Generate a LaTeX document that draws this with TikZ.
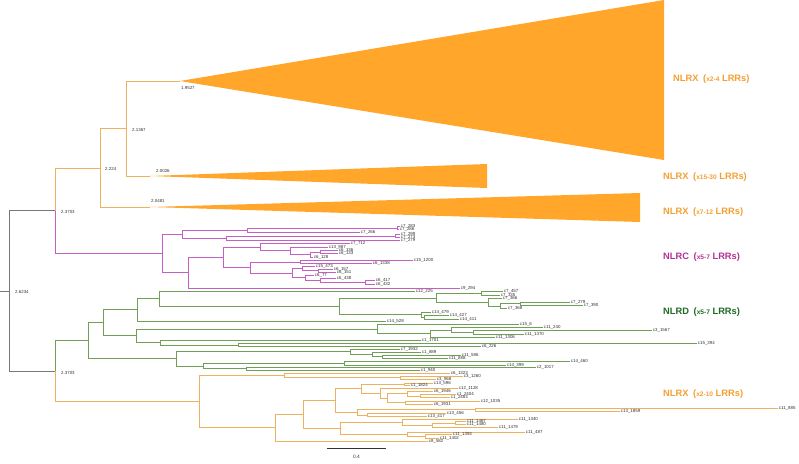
\documentclass[tikz,border=0pt]{standalone}
\usepackage{fontspec}
\setmainfont{Liberation Sans}
\definecolor{orL}{RGB}{236,178,96}
\definecolor{mgL}{RGB}{196,96,196}
\definecolor{gnL}{RGB}{112,160,88}
\definecolor{gyL}{RGB}{120,120,120}
\definecolor{orF}{RGB}{255,166,43}
\definecolor{orT}{RGB}{242,160,50}
\definecolor{mgT}{RGB}{180,50,150}
\definecolor{gnT}{RGB}{30,105,35}
\definecolor{txt}{RGB}{50,50,50}
\tikzset{
 br/.style={line width=0.65pt},
 bo/.style={br,orL}, bm/.style={br,mgL}, bg/.style={br,gnL}, bk/.style={br,gyL},
 lbl/.style={anchor=west, inner xsep=0.6pt, inner ysep=0pt, font=\fontsize{4.4}{4.4}\selectfont, text=txt},
 nlb/.style={anchor=west, inner sep=0pt, font=\fontsize{4.4}{4.4}\selectfont, text=txt},
 clade/.style={anchor=west, inner sep=0pt, font=\bfseries\fontsize{9.3}{11}\selectfont},
}
\newcommand\lf[5]{\draw[#1] (#2) |- (#3,#4) node[lbl]{#5};}
\newcommand\ed[3]{\draw[#1] (#2) |- (#3);}
\newcommand\sm[1]{{\fontsize{6.6}{7}\selectfont #1}}
\begin{document}
\begin{tikzpicture}[x=1pt,y=-1pt]
\useasboundingbox (0,0) rectangle (799,463);
% ---------- top-level ----------
\coordinate (rs) at (0,290.9);
\coordinate (r) at (9,290.9);
\coordinate (U) at (55,210.65);
\coordinate (L) at (55,371.2);
\coordinate (n100) at (100,168);
\coordinate (n126) at (126,128.5);
\coordinate (t1) at (180,81);
\coordinate (t2) at (150,176);
\coordinate (t3) at (150,207);
% NLRC
\coordinate (nC) at (162,253.3);
\coordinate (nC1) at (182,234);
\coordinate (nC1a) at (247,230.25);
\coordinate (nC1a1) at (397,228);
\coordinate (nC1b) at (226,238);
\coordinate (nC1b1) at (395,236);
\coordinate (nC2) at (188,272.65);
\coordinate (nC2a) at (223,257.3);
\coordinate (nC2a1) at (260,247.1);
\coordinate (nX) at (290,250.75);
\coordinate (nY) at (310,254.5);
\coordinate (nZ) at (320,252);
\coordinate (nC2a2) at (250,267.55);
\coordinate (nW) at (300,262);
\coordinate (nV) at (292,273.1);
\coordinate (nV1) at (302,268.6);
\coordinate (nV1a) at (318,270.75);
\coordinate (nV2) at (305,277.6);
\coordinate (nV2a) at (320,280.1);
\coordinate (nV2b) at (365,282.25);
% NLRD
\coordinate (nD) at (88,340.8);
\coordinate (nD1) at (103,322.8);
\coordinate (nD1a) at (137,309.8);
\coordinate (nD1a1) at (159,298.6);
\coordinate (nD1a1b) at (339,306.25);
\coordinate (nG) at (436,298);
\coordinate (nG1) at (481,293.5);
\coordinate (nG2) at (488,302.25);
\coordinate (nG3) at (500,306);
\coordinate (nG4) at (520,303.5);
\coordinate (nH) at (421,314.5);
\coordinate (nH1) at (424,317);
\coordinate (nD1b) at (136,335.8);
\coordinate (nE) at (377,328.85);
\coordinate (nE1) at (430,333.7);
\coordinate (nE2) at (451,329.9);
\coordinate (nE3) at (473,332.25);
\coordinate (nF) at (160,342.75);
\coordinate (nF1) at (238,345);
\coordinate (nD2) at (176,358.8);
\coordinate (nD2a) at (350,351.6);
\coordinate (nD2a1) at (372,354.25);
\coordinate (nD2a2) at (382,356.5);
\coordinate (nD2b) at (203,366);
\coordinate (nD2b1) at (344,363.25);
\coordinate (nD2b2) at (246,368.75);
% NLRX bottom
\coordinate (n199) at (199,401.6);
\coordinate (n284) at (284,375.3);
\coordinate (n400) at (400,377.6);
\coordinate (n275) at (275,427.7);
\coordinate (n303) at (303,414.4);
\coordinate (n335) at (335,400.5);
\coordinate (n361) at (361,388.6);
\coordinate (nA) at (404,384.3);
\coordinate (n380) at (380,393.3);
\coordinate (n387) at (387,398.1);
\coordinate (n407) at (407,393.75);
\coordinate (n420) at (420,396);
\coordinate (n405) at (405,402.5);
\coordinate (n357) at (357,412.4);
\coordinate (n475) at (475,409.75);
\coordinate (n367) at (367,415);
\coordinate (n340) at (340,428.3);
\coordinate (n402) at (402,422.5);
\coordinate (n432) at (432,425.4);
\coordinate (n455) at (455,423);
\coordinate (n407b) at (407,434.1);
\coordinate (n425) at (425,436.25);

% ---------- collapsed clades ----------
\fill[orF] (t1) -- (664,0) -- (664,160) -- cycle;
\fill[orF] (t2) -- (487,164) -- (487,188) -- cycle;
\fill[orF] (t3) -- (640,193) -- (640,222) -- cycle;

% ---------- backbone ----------
\draw[bk] (rs) -- (r);
\ed{bk}{r}{U} \ed{bk}{r}{L}
\ed{bo}{U}{n100} \ed{bm}{U}{nC}
\ed{bg}{L}{nD} \ed{bo}{L}{n199}
\ed{bo}{n100}{n126} \ed{bo}{n100}{t3}
\ed{bo}{n126}{t1} \ed{bo}{n126}{t2}

% ---------- NLRC ----------
\ed{bm}{nC}{nC1} \ed{bm}{nC}{nC2}
\ed{bm}{nC1}{nC1a} \ed{bm}{nC1}{nC1b}
\ed{bm}{nC1a}{nC1a1}
\lf{bm}{nC1a1}{400}{226.5}{c7\_283}
\lf{bm}{nC1a1}{399}{229.5}{c7\_286}
\lf{bm}{nC1a}{360}{232.5}{c7\_266}
\ed{bm}{nC1b}{nC1b1}
\lf{bm}{nC1b1}{400}{234.5}{c7\_299}
\lf{bm}{nC1b1}{400}{237.5}{c7\_273}
\lf{bm}{nC1b}{400}{240.5}{c7\_279}
\ed{bm}{nC2}{nC2a}
\lf{bm}{nC2}{460}{288}{c9\_294}
\ed{bm}{nC2a}{nC2a1} \ed{bm}{nC2a}{nC2a2}
\lf{bm}{nC2a1}{350}{243.5}{c7\_712}
\ed{bm}{nC2a1}{nX}
\lf{bm}{nX}{328}{247}{c13\_987}
\ed{bm}{nX}{nY}
\ed{bm}{nY}{nZ}
\lf{bm}{nZ}{338}{250.5}{c6\_136}
\lf{bm}{nZ}{338}{253.5}{c6\_133}
\lf{bm}{nY}{313}{257}{c6\_128}
\ed{bm}{nC2a2}{nW} \ed{bm}{nC2a2}{nV}
\lf{bm}{nW}{413}{260.5}{c15\_1200}
\lf{bm}{nW}{372}{263.5}{c6\_1338}
\ed{bm}{nV}{nV1} \ed{bm}{nV}{nV2}
\lf{bm}{nV1}{315}{266.5}{c15\_473}
\ed{bm}{nV1}{nV1a}
\lf{bm}{nV1a}{333}{269}{c6\_157}
\lf{bm}{nV1a}{336}{272.5}{c6\_151}
\lf{bm}{nV2}{314}{275}{c6\_77}
\ed{bm}{nV2}{nV2a}
\lf{bm}{nV2a}{336}{278}{c6\_438}
\ed{bm}{nV2a}{nV2b}
\lf{bm}{nV2b}{375}{280.5}{c6\_417}
\lf{bm}{nV2b}{375}{284}{c6\_432}

% ---------- NLRD ----------
\ed{bg}{nD}{nD1} \ed{bg}{nD}{nD2}
\ed{bg}{nD1}{nD1a} \ed{bg}{nD1}{nD1b}
\ed{bg}{nD1a}{nD1a1}
\lf{bg}{nD1a}{386}{321}{c14\_528}
\lf{bg}{nD1a1}{415}{291}{c12\_225}
\ed{bg}{nD1a1}{nD1a1b}
\ed{bg}{nD1a1b}{nG} \ed{bg}{nD1a1b}{nH}
\ed{bg}{nG}{nG1} \ed{bg}{nG}{nG2}
\lf{bg}{nG1}{503}{291.5}{c7\_457}
\lf{bg}{nG1}{500}{295.5}{c7\_335}
\lf{bg}{nG2}{502}{298.5}{c7\_366}
\ed{bg}{nG2}{nG3}
\ed{bg}{nG3}{nG4}
\lf{bg}{nG4}{570}{302}{c7\_279}
\lf{bg}{nG4}{583}{305}{c7\_390}
\lf{bg}{nG3}{507}{308.5}{c7\_368}
\lf{bg}{nH}{431}{312}{c14\_479}
\ed{bg}{nH}{nH1}
\lf{bg}{nH1}{449}{315}{c14\_427}
\lf{bg}{nH1}{459}{319}{c14\_411}
\ed{bg}{nD1b}{nE} \ed{bg}{nD1b}{nF}
\lf{bg}{nE}{519}{324}{c15\_6}
\ed{bg}{nE}{nE1}
\ed{bg}{nE1}{nE2}
\lf{bg}{nE1}{495}{337.5}{c11\_1306}
\lf{bg}{nE2}{543}{327.5}{c11\_240}
\ed{bg}{nE2}{nE3}
\lf{bg}{nE3}{652}{330.5}{c3\_1567}
\lf{bg}{nE3}{524}{334}{c11\_1370}
\lf{bg}{nF}{421}{340.5}{c1\_1701}
\ed{bg}{nF}{nF1}
\lf{bg}{nF1}{697}{343.5}{c15\_394}
\lf{bg}{nF1}{481}{346.5}{c6\_226}
\ed{bg}{nD2}{nD2a} \ed{bg}{nD2}{nD2b}
\lf{bg}{nD2a}{400}{349}{c7\_1932}
\ed{bg}{nD2a}{nD2a1}
\lf{bg}{nD2a1}{421}{352}{c1\_889}
\ed{bg}{nD2a1}{nD2a2}
\lf{bg}{nD2a2}{461}{355}{c11\_586}
\lf{bg}{nD2a2}{448}{358}{c11\_888}
\ed{bg}{nD2b}{nD2b1} \ed{bg}{nD2b}{nD2b2}
\lf{bg}{nD2b1}{570}{361.5}{c14\_460}
\lf{bg}{nD2b1}{506}{365}{c14\_399}
\lf{bg}{nD2b2}{536}{367}{c2\_1017}
\lf{bg}{nD2b2}{420}{370.5}{c1\_940}

% ---------- NLRX (x2-10) ----------
\ed{bo}{n199}{n284} \ed{bo}{n199}{n275}
\lf{bo}{n284}{450}{373}{c6\_1323}
\ed{bo}{n284}{n400}
\lf{bo}{n400}{463}{376}{c3\_1260}
\lf{bo}{n400}{436}{379.2}{c3\_968}
\ed{bo}{n275}{n303}
\lf{bo}{n275}{428}{441}{c8\_582}
\ed{bo}{n303}{n335} \ed{bo}{n303}{n340}
\ed{bo}{n335}{n361} \ed{bo}{n335}{n357}
\ed{bo}{n361}{nA} \ed{bo}{n361}{n380}
\lf{bo}{nA}{433}{383.2}{c13\_596}
\lf{bo}{nA}{410}{385.5}{c1\_1824}
\lf{bo}{n380}{458}{388.5}{c12\_1128}
\ed{bo}{n380}{n387}
\ed{bo}{n387}{n407} \ed{bo}{n387}{n405}
\lf{bo}{n407}{433}{391.5}{c6\_1946}
\ed{bo}{n407}{n420}
\lf{bo}{n420}{456}{394.5}{c1\_2404}
\lf{bo}{n420}{450}{397.5}{c1\_2483}
\lf{bo}{n405}{480}{401}{c12\_1035}
\lf{bo}{n405}{433}{404}{c6\_1931}
\ed{bo}{n357}{n475} \ed{bo}{n357}{n367}
\lf{bo}{n475}{778}{408}{c11\_885}
\lf{bo}{n475}{620}{411.5}{c13\_1859}
\lf{bo}{n367}{446}{413.5}{c13\_456}
\lf{bo}{n367}{427}{416.5}{c13\_417}
\ed{bo}{n340}{n402} \ed{bo}{n340}{n407b}
\lf{bo}{n402}{518}{419.5}{c11\_1340}
\ed{bo}{n402}{n432}
\ed{bo}{n432}{n455}
\lf{bo}{n455}{466}{421.5}{c11\_1467}
\lf{bo}{n455}{466}{424.5}{c11\_1480}
\lf{bo}{n432}{498}{427.75}{c11\_1479}
\lf{bo}{n407b}{525}{432}{c11\_487}
\ed{bo}{n407b}{n425}
\lf{bo}{n425}{452}{434.5}{c11\_1393}
\lf{bo}{n425}{439}{438}{c11\_1402}

% ---------- node values ----------
\node[nlb] (v1) at (15,292) {2.6234};
\node[nlb] (v2) at (61,211.5) {2.3703};
\node[nlb] (v3) at (61,372.5) {2.3703};
\node[nlb] (v4) at (105,168.5) {2.224};
\node[nlb] (v5) at (132,129.5) {2.1367};
\node[nlb] (v6) at (181,88) {1.9527};
\node[nlb] (v7) at (156,171) {2.0026};
\node[nlb] (v8) at (151,201) {2.0481};

% ---------- clade labels ----------
\node[clade,text=orT] (k1) at (673,79) {NLRX\enspace(\sm{x2-4} LRRs)};
\node[clade,text=orT] (k2) at (663,177) {NLRX\enspace(\sm{x15-30} LRRs)};
\node[clade,text=orT] (k3) at (663,212) {NLRX\enspace(\sm{x7-12} LRRs)};
\node[clade,text=mgT] (k4) at (663,257) {NLRC\enspace(\sm{x5-7} LRRs)};
\node[clade,text=gnT] (k5) at (663,312) {NLRD\enspace(\sm{x5-7} LRRs)};
\node[clade,text=orT] (k6) at (663,394) {NLRX\enspace(\sm{x2-10} LRRs)};

% ---------- scale bar ----------
\coordinate (s1) at (327,448);
\coordinate (s2) at (386,448);
\draw[line width=0.6pt,txt] (s1) -- (s2);
\node[font=\fontsize{4.8}{5}\selectfont,text=txt,inner sep=0pt] (sc) at (356.5,457) {0.4};
\end{tikzpicture}
\end{document}
